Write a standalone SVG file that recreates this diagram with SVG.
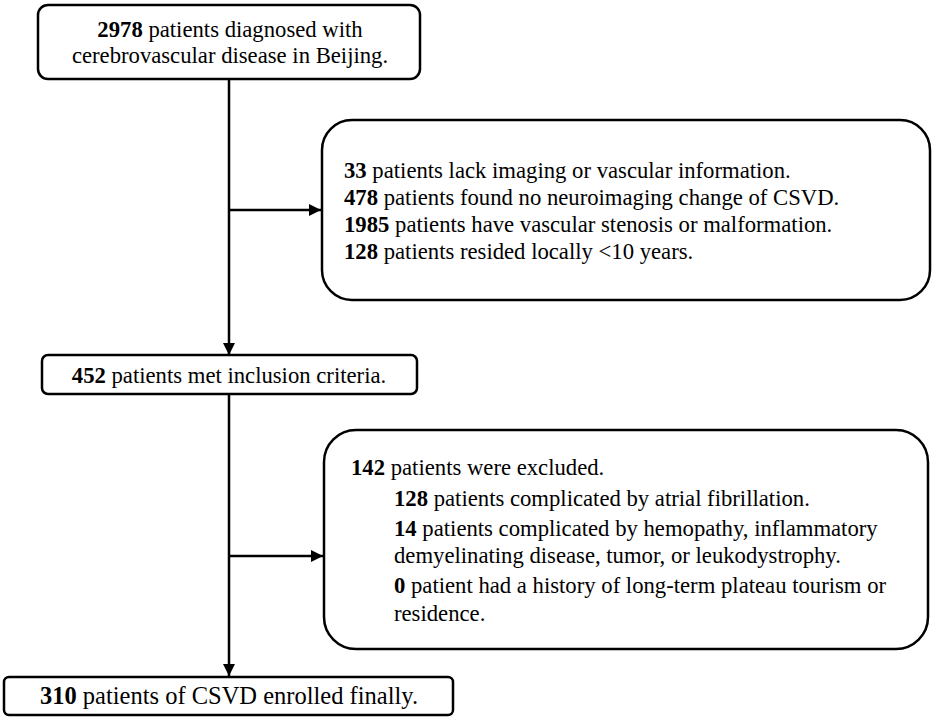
<svg xmlns="http://www.w3.org/2000/svg" width="935" height="719" viewBox="0 0 935 719">
<defs>
<marker id="ah" viewBox="0 0 10 10" refX="10" refY="5" markerWidth="5" markerHeight="5" orient="auto" markerUnits="strokeWidth">
<path d="M0,0 L10,5 L0,10 z" fill="#000"/>
</marker>
<style>
.box{fill:#fff;stroke:#000;stroke-width:2.5}
.t{font-family:"Liberation Serif","Times New Roman",serif;font-size:22.7px;fill:#000}
.c{text-anchor:middle}
.b{font-weight:bold}
.ln{stroke:#000;stroke-width:2.5;fill:none}
</style>
</defs>
<rect width="935" height="719" fill="#fff"/>
<g id="connectors">
<line class="ln" x1="229" y1="79" x2="229" y2="355" marker-end="url(#ah)"/>
<line class="ln" x1="229" y1="210" x2="321" y2="210" marker-end="url(#ah)"/>
<line class="ln" x1="229" y1="394" x2="229" y2="676" marker-end="url(#ah)"/>
<line class="ln" x1="229" y1="556" x2="323" y2="556" marker-end="url(#ah)"/>
</g>
<g id="n1">
<rect class="box" x="38" y="5" width="382" height="74" rx="10"/>
<text class="t c" x="230" y="37"><tspan class="b">2978</tspan> patients diagnosed with</text>
<text class="t c" x="230" y="63">cerebrovascular disease in Beijing.</text>
</g>
<g id="n2">
<rect class="box" x="322" y="120" width="608" height="180" rx="30"/>
<text class="t" x="344" y="178"><tspan class="b">33</tspan> patients lack imaging or vascular information.</text>
<text class="t" x="344" y="205"><tspan class="b">478</tspan> patients found no neuroimaging change of CSVD.</text>
<text class="t" x="344" y="232"><tspan class="b">1985</tspan> patients have vascular stenosis or malformation.</text>
<text class="t" x="344" y="259"><tspan class="b">128</tspan> patients resided locally &lt;10 years.</text>
</g>
<g id="n3">
<rect class="box" x="42" y="355" width="375" height="39" rx="6"/>
<text class="t c" x="229" y="383"><tspan class="b">452</tspan> patients met inclusion criteria.</text>
</g>
<g id="n4">
<rect class="box" x="324" y="430" width="604" height="219" rx="32"/>
<text class="t" x="351" y="475"><tspan class="b">142</tspan> patients were excluded.</text>
<text class="t" x="394" y="506"><tspan class="b">128</tspan> patients complicated by atrial fibrillation.</text>
<text class="t" x="394" y="536"><tspan class="b">14</tspan> patients complicated by hemopathy, inflammatory</text>
<text class="t" x="394" y="563">demyelinating disease, tumor, or leukodystrophy.</text>
<text class="t" x="394" y="593"><tspan class="b">0</tspan> patient had a history of long-term plateau tourism or</text>
<text class="t" x="394" y="621">residence.</text>
</g>
<g id="n5">
<rect class="box" x="4" y="677" width="449" height="38" rx="5"/>
<text class="t c" x="229" y="704" style="font-size:24.5px"><tspan class="b">310</tspan> patients of CSVD enrolled finally.</text>
</g>
</svg>
